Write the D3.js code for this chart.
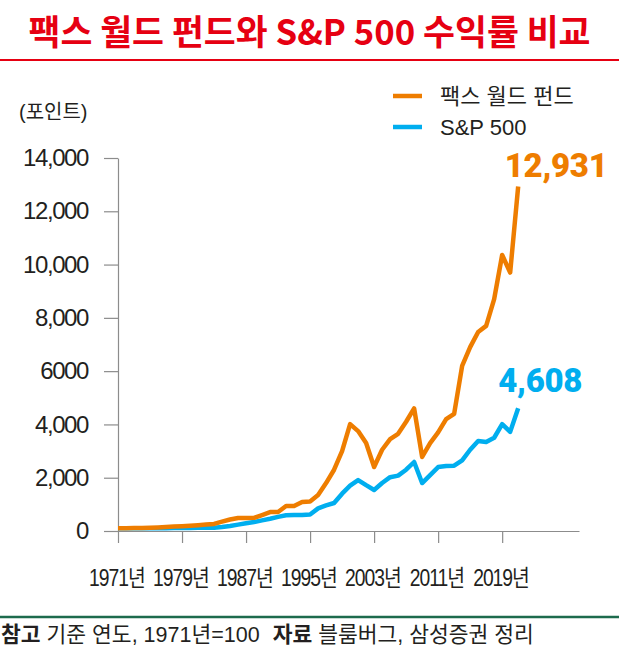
<!DOCTYPE html>
<html>
<head>
<meta charset="utf-8">
<script src="https://cdn.jsdelivr.net/npm/d3@7/dist/d3.min.js"></script>
<style>
body{margin:0;background:#fff;}
svg{display:block;}
</style>
</head>
<body>
<svg id="chart" width="619" height="648"></svg>
<script>
var years = [1971,1972,1973,1974,1975,1976,1977,1978,1979,1980,
	1981,1982,1983,1984,1985,1986,1987,1988,1989,1990,
	1991,1992,1993,1994,1995,1996,1997,1998,1999,2000,
	2001,2002,2003,2004,2005,2006,2007,2008,2009,2010,
	2011,2012,2013,2014,2015,2016,2017,2018,2019,2020,2021];

// 팩스 월드 펀드 (1971=100)
var paxValues = [100,105,110,115,125,135,150,165,180,200,
	220,240,265,350,430,490,490,495,600,710,
	710,940,940,1090,1110,1350,1800,2300,3000,4010,
	3750,3300,2400,3050,3450,3650,4100,4600,2780,3300,
	3700,4200,4400,6200,6900,7470,7700,8700,10360,9700,12931];

// S&P 500 (1971=100)
var spValues = [100,100,100,100,100,105,105,110,110,115,
	120,130,120,150,190,240,290,340,400,460,
	530,590,600,600,620,850,960,1050,1400,1700,
	1910,1720,1540,1800,2020,2080,2300,2590,1800,2100,
	2400,2440,2450,2650,3050,3380,3340,3500,4010,3720,4608];

var xTickYears = [1971,1979,1987,1995,2003,2011,2019];
var yTickValues = [0,2000,4000,6000,8000,10000,12000,14000];
var yTickLabels = ["0","2,000","4,000","6000","8,000","10,000","12,000","14,000"];
var seriesNames = ["팩스 월드 펀드","S&P 500"];
var endLabels = ["12,931","4,608"];

var orange = "#ee7d00";
var blue = "#00aeef";
var axisGray = "#8c8c8c";

var svg = d3.select("#chart");

var x = d3.scaleLinear().domain([1971, 2028.6]).range([118, 579]);
var y = d3.scaleLinear().domain([0, 14000]).range([531, 158]);

// title
svg.append("text")
	.attr("x", 309.5)
	.attr("y", 45)
	.attr("text-anchor", "middle")
	.attr("font-family", "Noto Sans CJK KR")
	.attr("font-weight", 700)
	.attr("font-size", 35)
	.attr("fill", "#e60012")
	.attr("textLength", 562)
	.attr("lengthAdjust", "spacingAndGlyphs")
	.text("팩스 월드 펀드와 S&P 500 수익률 비교");

svg.append("line")
	.attr("x1", 0).attr("x2", 619)
	.attr("y1", 60).attr("y2", 60)
	.attr("stroke", "#e60012")
	.attr("stroke-width", 2);

svg.append("text")
	.attr("x", 19)
	.attr("y", 119)
	.attr("font-family", "Liberation Sans, Noto Sans CJK KR")
	.attr("font-size", 20)
	.attr("fill", "#231f20")
	.text("(포인트)");

// y axis
var yAxis = d3.axisLeft(y)
	.tickValues(yTickValues)
	.tickFormat(function(d,i){ return yTickLabels[i]; })
	.tickSize(14)
	.tickSizeOuter(0)
	.tickPadding(16);

var yG = svg.append("g")
	.attr("transform", "translate(" + x(1971) + ",0)")
	.call(yAxis);
yG.selectAll("path, line").attr("stroke", axisGray).attr("stroke-width", 1.2);
yG.selectAll("text")
	.attr("font-family", "Liberation Sans")
	.attr("font-size", 24)
	.attr("letter-spacing", -1.4)
	.attr("fill", "#231f20");

// x axis
var xAxis = d3.axisBottom(x)
	.tickValues(xTickYears)
	.tickFormat(function(d){ return d + "년"; })
	.tickSize(12)
	.tickSizeOuter(0)
	.tickPadding(27);

var xG = svg.append("g")
	.attr("transform", "translate(0," + y(0) + ")")
	.call(xAxis);
xG.selectAll("path, line").attr("stroke", axisGray).attr("stroke-width", 1.2);
xG.selectAll("text")
	.attr("x", -2)
	.attr("transform", "scale(0.84,1)")
	.attr("font-family", "Liberation Sans, Noto Sans CJK KR")
	.attr("font-size", 23)
	.attr("letter-spacing", -1.2)
	.attr("fill", "#231f20");

// lines
var line = d3.line()
	.x(function(d){ return x(d.year); })
	.y(function(d){ return y(d.value); });

var spData = years.map(function(yr,i){ return {year: yr, value: spValues[i]}; });
var paxData = years.map(function(yr,i){ return {year: yr, value: paxValues[i]}; });

svg.append("path")
	.datum(spData)
	.attr("d", line)
	.attr("fill", "none")
	.attr("stroke", blue)
	.attr("stroke-width", 4.5)
	.attr("stroke-linejoin", "round");

svg.append("path")
	.datum(paxData)
	.attr("d", line)
	.attr("fill", "none")
	.attr("stroke", orange)
	.attr("stroke-width", 4.5)
	.attr("stroke-linejoin", "round");

// end labels
var lastIdx = years.length - 1;
svg.append("text")
	.attr("x", x(years[lastIdx]) + 38)
	.attr("y", y(paxValues[lastIdx]) - 9)
	.attr("text-anchor", "middle")
	.attr("font-family", "Roboto")
	.attr("font-weight", 900)
	.attr("font-size", 33)
	.attr("letter-spacing", -0.3)
	.attr("fill", orange)
	.text(endLabels[0]);

svg.append("text")
	.attr("x", x(years[lastIdx]) + 22)
	.attr("y", y(spValues[lastIdx]) - 16)
	.attr("text-anchor", "middle")
	.attr("font-family", "Roboto")
	.attr("font-weight", 900)
	.attr("font-size", 33)
	.attr("letter-spacing", -0.3)
	.attr("fill", blue)
	.text(endLabels[1]);

// legend
var legend = svg.append("g").attr("transform", "translate(393,96)");
[orange, blue].forEach(function(c,i){
	legend.append("line")
		.attr("x1", 0).attr("x2", 29)
		.attr("y1", i*31).attr("y2", i*31)
		.attr("stroke", c)
		.attr("stroke-width", 4.5);
	legend.append("text")
		.attr("x", 47)
		.attr("y", i*31 + 8)
		.attr("font-family", "Liberation Sans, Noto Sans CJK KR")
		.attr("font-size", 22)
		.attr("fill", "#231f20")
		.text(seriesNames[i]);
});

// footer
svg.append("line")
	.attr("x1", 0).attr("x2", 619)
	.attr("y1", 617).attr("y2", 617)
	.attr("stroke", "#1d6b4d")
	.attr("stroke-width", 2.5);

var foot = svg.append("text")
	.attr("x", 1)
	.attr("y", 642)
	.attr("font-family", "Liberation Sans, Noto Sans CJK KR")
	.attr("font-size", 21.5)
	.attr("fill", "#231f20");
foot.append("tspan").attr("font-weight", 700).text("참고");
foot.append("tspan").text(" 기준 연도, 1971년=100");
foot.append("tspan").attr("dx", 13).attr("font-weight", 700).text("자료");
foot.append("tspan").text(" 블룸버그, 삼성증권 정리");
</script>
</body>
</html>
